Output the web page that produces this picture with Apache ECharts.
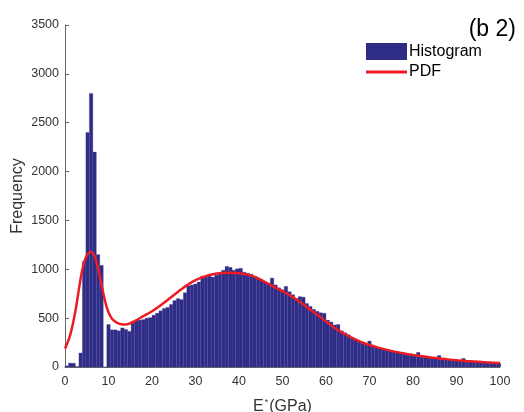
<!DOCTYPE html>
<html>
<head>
<meta charset="utf-8">
<script src="https://cdn.jsdelivr.net/npm/echarts@6/dist/echarts.min.js"></script>
<style>
  html, body { margin: 0; padding: 0; background: #fff; }
  #chart { width: 524px; height: 412px; }
</style>
</head>
<body>
<div id="chart"></div>
<script>
// Histogram of E* (GPa): bins of equal width starting at 0
var binStart = 0;
var binWidth = 0.8;
var binCounts = [
  12, 40, 38, 5, 143, 1080, 2400, 2800, 2200, 1150,
  1040, 0, 435, 380, 380, 370, 400, 385, 365, 470,
  475, 480, 485, 500, 505, 530, 550, 575, 600, 610,
  640, 680, 700, 690, 760, 830, 840, 850, 870, 930,
  920, 930, 920, 940, 960, 990, 1030, 1020, 990, 1005,
  1010, 970, 960, 950, 930, 910, 890, 870, 860, 910,
  840, 810, 790, 825, 770, 740, 700, 720, 715, 650,
  620, 590, 570, 555, 550, 480, 460, 430, 435, 370,
  350, 330, 305, 285, 265, 255, 240, 265, 225, 205,
  195, 185, 175, 168, 160, 155, 148, 140, 132, 125,
  120, 150, 115, 108, 102, 98, 95, 118, 85, 80,
  75, 70, 67, 64, 88, 60, 57, 54, 52, 48,
  45, 42, 40, 37, 35
];

// Fitted probability density, scaled to frequency
var pdfX = [0, 0.5, 1, 1.5, 2, 2.5, 3, 3.5, 4, 4.5, 5, 5.5, 6, 6.5, 7, 7.5, 8, 8.5, 9, 9.5,
  10, 10.5, 11, 12, 13, 14, 15, 16, 18, 20, 22, 24, 26, 28, 30, 32, 34, 36, 38, 40,
  42, 44, 46, 48, 50, 52, 54, 56, 58, 60, 62, 64, 66, 68, 70, 72, 74, 76, 78, 80,
  82, 84, 86, 88, 90, 92, 94, 96, 98, 100];
var pdfY = [188, 240, 300, 380, 480, 600, 740, 880, 1000, 1085, 1140, 1170, 1178, 1160, 1110, 1030, 930, 820, 715, 625,
  560, 515, 485, 452, 437, 435, 448, 470, 520, 570, 632, 700, 770, 835, 888, 925, 950, 962, 965, 960,
  945, 915, 870, 822, 775, 725, 665, 600, 535, 465, 400, 345, 298, 258, 225, 198, 175, 155, 138, 124,
  110, 98, 88, 78, 70, 62, 56, 50, 45, 41];

var xTicks = [0, 10, 20, 30, 40, 50, 60, 70, 80, 90, 100];
var yTicks = [0, 500, 1000, 1500, 2000, 2500, 3000, 3500];

var histData = binCounts.map(function (c, i) {
  var x0 = binStart + i * binWidth;
  return [x0, x0 + binWidth, c];
});
var pdfData = pdfX.map(function (x, i) { return [x, pdfY[i]]; });

var barColor = '#2e2c84';
var lineColor = '#ec1c24';
var font = 'Liberation Sans, Arial, Helvetica, sans-serif';
var legendText = { fontFamily: font, fontSize: 16, color: '#000', padding: [0, 0, 0, -3] };

var chart = echarts.init(document.getElementById('chart'), null, { renderer: 'canvas' });
chart.setOption({
  animation: false,
  backgroundColor: '#fff',
  title: {
    text: '(b 2)',
    right: 3,
    top: 13,
    textStyle: { fontFamily: font, fontSize: 23, fontWeight: 'normal', color: '#000' }
  },
  legend: [
    {
      left: 366,
      top: 43,
      padding: 0,
      itemWidth: 41,
      itemHeight: 17,
      textStyle: legendText,
      data: [{ name: 'Histogram', icon: 'rect' }]
    },
    {
      left: 366,
      top: 64,
      padding: 0,
      itemWidth: 41,
      itemHeight: 3,
      textStyle: legendText,
      data: [{ name: 'PDF', icon: 'rect' }]
    }
  ],
  grid: { left: 65, right: 24, top: 25, bottom: 45, containLabel: false, outerBoundsMode: 'none' },
  xAxis: {
    type: 'value',
    min: xTicks[0],
    max: xTicks[xTicks.length - 1],
    interval: 10,
    name: 'E{sup|*}(GPa)',
    nameLocation: 'middle',
    nameGap: 31,
    nameMoveOverlap: false,
    nameTextStyle: {
      fontFamily: font, fontSize: 16, color: '#333',
      rich: {
        sup: { fontFamily: font, fontSize: 9, color: '#333', verticalAlign: 'top', padding: [0, 1, 8, 1] }
      }
    },
    axisLine: { lineStyle: { color: '#666', width: 1 } },
    axisTick: { inside: true, length: 4, lineStyle: { color: '#666' } },
    axisLabel: { fontFamily: font, fontSize: 12.5, color: '#333', margin: 8 },
    splitLine: { show: false }
  },
  yAxis: {
    type: 'value',
    min: yTicks[0],
    max: yTicks[yTicks.length - 1],
    interval: 500,
    name: 'Frequency',
    nameLocation: 'middle',
    nameGap: 39,
    nameMoveOverlap: false,
    nameTextStyle: { fontFamily: font, fontSize: 16, color: '#333' },
    axisLine: { show: true, lineStyle: { color: '#666', width: 1 } },
    axisTick: { show: true, inside: true, length: 4, lineStyle: { color: '#666' } },
    axisLabel: {
      fontFamily: font, fontSize: 12.5, color: '#333', margin: 6,
      formatter: function (v) { return String(v); }
    },
    splitLine: { show: false }
  },
  series: [
    {
      name: 'Histogram',
      type: 'custom',
      itemStyle: { color: barColor },
      encode: { x: [0, 1], y: 2 },
      data: histData,
      renderItem: function (params, api) {
        var top = api.coord([api.value(0), api.value(2)]);
        var bottom = api.coord([api.value(1), 0]);
        return {
          type: 'rect',
          shape: { x: top[0], y: top[1], width: bottom[0] - top[0], height: bottom[1] - top[1] },
          style: { fill: barColor, stroke: '#4644a0', lineWidth: 0.3 }
        };
      },
      z: 2
    },
    {
      name: 'PDF',
      type: 'line',
      data: pdfData,
      smooth: 0.4,
      symbol: 'none',
      lineStyle: { color: lineColor, width: 2.5 },
      itemStyle: { color: lineColor },
      z: 3
    }
  ]
});
</script>
</body>
</html>
